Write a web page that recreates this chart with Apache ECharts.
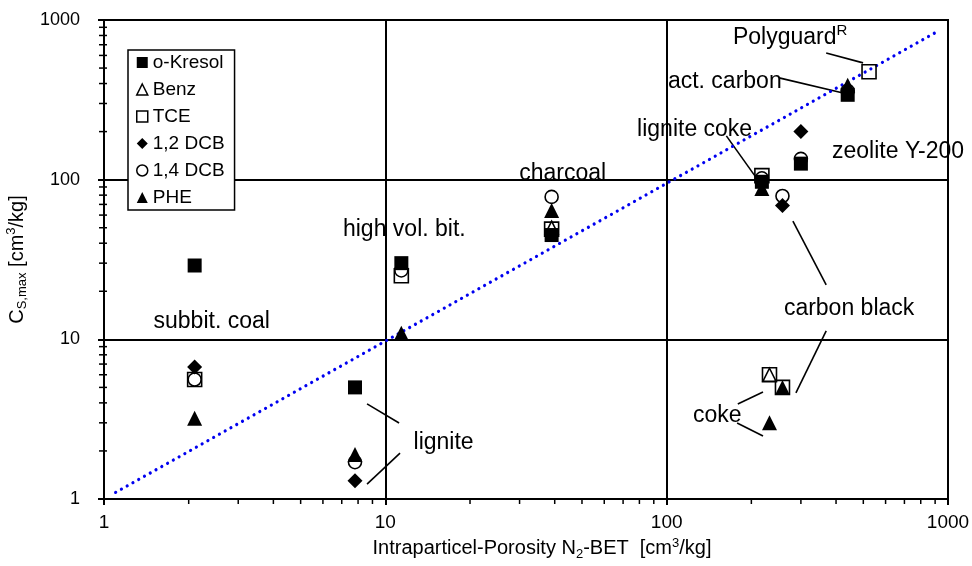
<!DOCTYPE html>
<html>
<head>
<meta charset="utf-8">
<title>Sorption capacity vs. intraparticle porosity</title>
<script src="https://cdn.jsdelivr.net/npm/echarts@6/dist/echarts.min.js"></script>
<style>
  html, body { margin: 0; padding: 0; background: #fff; }
  #chart { width: 972px; height: 566px; }
</style>
</head>
<body>
<div id="chart"></div>
<script>
// Sorbent materials and their N2-BET intraparticle porosity [cm3/kg]
const materials = ['subbit. coal', 'lignite', 'high vol. bit.', 'charcoal', 'lignite coke',
                   'carbon black', 'coke', 'zeolite Y-200', 'act. carbon', 'Polyguard'];
const porosity = [2.1, 7.8, 11.4, 39, 218, 258, 232, 300, 440, 524];

// Maximum sorption capacity C_S,max [cm3/kg] per compound (null = not measured)
const oKresol = [29, 5.0, 30, 45, 97, null, null, 126, 340, null];
const benz    = [null, null, null, 50, null, null, 6.0, null, null, null];
const tce     = [5.6, null, 25, 49, 106, 5.0, 6.0, null, null, 474];
const dcb12   = [6.7, 1.3, null, null, null, 69, null, 200, null, null];
const dcb14   = [5.6, 1.7, 27, 78, 102, 79, null, 135, 360, null];
const phe     = [3.2, 1.9, 10.9, 64, 88, 5.0, 3.0, null, 390, null];

// 1:1 reference line
const diagX = [1.1, 920];
const diagY = [1.1, 850];

// Minor tick values on both log axes
const minorTicks = [2, 3, 4, 5, 6, 7, 8, 9, 20, 30, 40, 50, 60, 70, 80, 90, 200, 300, 400, 500, 600, 700, 800, 900];

// Material annotations (text anchored at its left edge)
const noteText = ['Polyguard{sup|R}', 'act. carbon', 'lignite coke', 'zeolite Y-200', 'charcoal',
                  'high vol. bit.', 'subbit. coal', 'carbon black', 'lignite', 'coke'];
const noteX = [172, 101, 78.5, 387, 29.9, 7.07, 1.5, 261, 12.6, 124];
const noteY = [773, 410, 205, 150, 109, 48.5, 12.9, 15.5, 2.25, 3.31];

// Leader lines from annotations to their points
const leadX1 = [369, 251, 163, 281, 369, 179, 178, 8.61, 8.61];
const leadY1 = [622, 434, 188, 55, 11.3, 3.94, 2.99, 3.94, 1.24];
const leadX2 = [499, 420, 208, 369, 288, 220, 220, 11.19, 11.28];
const leadY2 = [539, 350, 103, 21.9, 4.62, 4.68, 2.48, 2.99, 1.94];

const FONT = 'Liberation Sans, Arial, sans-serif';
const OPEN = 'rgba(0,0,0,0)';

function pairs(values) {
  const out = [];
  values.forEach((v, i) => { if (v != null) out.push([porosity[i], v]); });
  return out;
}

function markerSeries(name, values, symbol, size, filled) {
  return {
    name: name,
    type: 'scatter',
    data: pairs(values),
    symbol: symbol,
    symbolSize: size,
    itemStyle: filled
      ? { color: '#000', borderColor: '#000', borderWidth: 0, opacity: 1 }
      : { color: OPEN, borderColor: '#000', borderWidth: 1.6, opacity: 1 },
    emphasis: { disabled: true },
    z: 5
  };
}

const chart = echarts.init(document.getElementById('chart'), null, { renderer: 'canvas' });

const legendItem = (name, icon, filled) => ({
  name: name,
  icon: icon,
  itemStyle: filled
    ? { color: '#000', borderWidth: 0, opacity: 1 }
    : { color: '#fff', borderColor: '#000', borderWidth: 1.5, opacity: 1 }
});

const subSup = (size) => ({
  sub: { fontFamily: FONT, fontSize: size, lineHeight: size, verticalAlign: 'bottom', color: '#000' },
  sup: { fontFamily: FONT, fontSize: size, lineHeight: size, verticalAlign: 'top', color: '#000' }
});

chart.setOption({
  animation: false,
  backgroundColor: '#fff',
  grid: {
    left: 104, right: 24, top: 20, bottom: 67,
    containLabel: false,
    outerBoundsMode: 'none',
    show: true, borderColor: '#000', borderWidth: 2, backgroundColor: 'transparent'
  },
  legend: {
    orient: 'vertical',
    left: 128, top: 50,
    padding: [3, 10, 3, 8],
    itemGap: 8,
    itemWidth: 11, itemHeight: 11,
    backgroundColor: '#fff',
    borderColor: '#000', borderWidth: 1.5,
    textStyle: { fontFamily: FONT, fontSize: 19, color: '#000' },
    selectedMode: false,
    z: 20,
    data: [
      legendItem('o-Kresol', 'rect', true),
      legendItem('Benz', 'triangle', false),
      legendItem('TCE', 'rect', false),
      legendItem('1,2 DCB', 'diamond', true),
      legendItem('1,4 DCB', 'circle', false),
      legendItem('PHE', 'triangle', true)
    ]
  },
  xAxis: {
    type: 'log', logBase: 10, min: 1, max: 1000,
    name: 'Intraparticel-Porosity N{sub|2}-BET  [cm{sup|3}/kg]',
    nameLocation: 'middle', nameGap: 35,
    nameTextStyle: {
      fontFamily: FONT, fontSize: 20, color: '#000', lineHeight: 24,
      padding: [0, 0, 0, 32],
      rich: subSup(13)
    },
    axisLine: { show: true, lineStyle: { color: '#000', width: 2 } },
    axisTick: { show: true, length: 6, inside: false, lineStyle: { color: '#000', width: 2 } },
    axisLabel: { fontFamily: FONT, fontSize: 19, color: '#000', margin: 14,
      formatter: v => String(Math.round(v)) },
    splitLine: { show: true, lineStyle: { color: '#000', width: 2 } },
    minorTick: { show: false }
  },
  yAxis: {
    type: 'log', logBase: 10, min: 1, max: 1000,
    name: 'C{sub|S,max} [cm{sup|3}/kg]',
    nameLocation: 'middle', nameGap: 72, nameRotate: 90,
    nameTextStyle: {
      fontFamily: FONT, fontSize: 20, color: '#000', lineHeight: 24,
      rich: subSup(13)
    },
    axisLine: { show: true, lineStyle: { color: '#000', width: 2 } },
    axisTick: { show: true, length: 6, inside: false, lineStyle: { color: '#000', width: 2 } },
    axisLabel: { fontFamily: FONT, fontSize: 18, color: '#000', margin: 24,
      formatter: v => String(Math.round(v)) },
    splitLine: { show: true, lineStyle: { color: '#000', width: 2 } },
    minorTick: { show: false }
  },
  series: [
    // minor ticks along the bottom axis
    {
      type: 'custom', silent: true, clip: false, z: 3,
      data: minorTicks.map(v => [v, 1]),
      encode: { x: 0, y: 1 },
      renderItem: (params, api) => {
        const p = api.coord([api.value(0), api.value(1)]);
        return { type: 'line', shape: { x1: p[0], y1: p[1], x2: p[0], y2: p[1] + 5 },
                 style: { stroke: '#000', lineWidth: 1.5 } };
      }
    },
    // minor ticks along the left axis
    {
      type: 'custom', silent: true, clip: false, z: 3,
      data: minorTicks.map(v => [1, v]),
      encode: { x: 0, y: 1 },
      renderItem: (params, api) => {
        const p = api.coord([api.value(0), api.value(1)]);
        return { type: 'line', shape: { x1: p[0] - 5, y1: p[1], x2: p[0] + 3, y2: p[1] },
                 style: { stroke: '#000', lineWidth: 1.5 } };
      }
    },
    // 1:1 line
    {
      type: 'line', silent: true, z: 4,
      data: diagX.map((x, i) => [x, diagY[i]]),
      showSymbol: false, symbol: 'none',
      lineStyle: { color: '#0000f0', width: 3.2, type: [0.01, 6.6], cap: 'round', opacity: 1 }
    },
    // leader lines
    {
      type: 'custom', silent: true, z: 4,
      data: leadX1.map((x, i) => [x, leadY1[i], leadX2[i], leadY2[i]]),
      encode: { x: [0, 2], y: [1, 3] },
      renderItem: (params, api) => {
        const a = api.coord([api.value(0), api.value(1)]);
        const b = api.coord([api.value(2), api.value(3)]);
        return { type: 'line', shape: { x1: a[0], y1: a[1], x2: b[0], y2: b[1] },
                 style: { stroke: '#000', lineWidth: 1.6 } };
      }
    },
    markerSeries('o-Kresol', oKresol, 'rect', 14, true),
    markerSeries('TCE', tce, 'rect', 14, false),
    markerSeries('1,4 DCB', dcb14, 'circle', 13, false),
    markerSeries('1,2 DCB', dcb12, 'diamond', 15, true),
    markerSeries('PHE', phe, 'triangle', 15, true),
    markerSeries('Benz', benz, 'triangle', 13, false),
    // material annotations
    {
      type: 'scatter', silent: true, z: 6,
      data: noteX.map((x, i) => ({ value: [x, noteY[i]], name: noteText[i] })),
      symbolSize: 0,
      itemStyle: { color: OPEN, opacity: 1 },
      label: {
        show: true, position: 'right', distance: 0,
        formatter: p => p.name,
        fontFamily: FONT, fontSize: 23, color: '#000', lineHeight: 28,
        rich: {
          sup: { fontFamily: FONT, fontSize: 15, lineHeight: 15, verticalAlign: 'top', color: '#000' }
        }
      },
      emphasis: { disabled: true }
    }
  ]
});
</script>
</body>
</html>
